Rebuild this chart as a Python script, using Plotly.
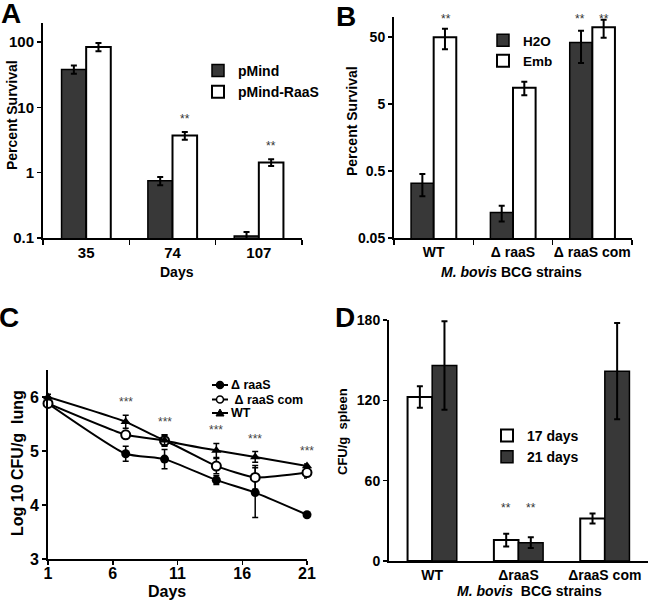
import numpy as np
import plotly.graph_objects as go

# ---------------- Data ----------------
# Panel A
a_days = ["35", "74", "107"]
a_pmind = [38, 0.75, 0.107]
a_pmind_err = [5.5, 0.11, 0.017]
a_raas = [84, 3.7, 1.43]
a_raas_err = [12, 0.5, 0.17]
a_raas_sig = ["", "**", "**"]

# Panel B
b_strains = ["WT", "Δ raaS", "Δ raaS com"]
b_h2o = [0.33, 0.12, 41.5]
b_h2o_err = [0.12, 0.032, 21]
b_emb = [50, 8.8, 70]
b_emb_err = [17, 2, 21]
b_h2o_sig = ["", "", "**"]
b_emb_sig = ["**", "", "**"]

# Panel C
c_days = [1, 7, 10, 14, 17, 21]
c_raas = [5.88, 4.95, 4.85, 4.46, 4.23, 3.82]
c_raas_err = [0.05, 0.14, 0.18, 0.08, 0.46, 0.03]
c_com = [5.88, 5.30, 5.19, 4.72, 4.51, 4.60]
c_com_err = [0.05, 0.04, 0.10, 0.14, 0.22, 0.10]
c_wt = [6.0, 5.54, 5.20, 5.01, 4.89, 4.72]
c_wt_err = [0.05, 0.12, 0.10, 0.13, 0.10, 0.04]
c_sig = ["", "***", "***", "***", "***", "***"]
c_names = ["Δ raaS", " Δ raaS com", "WT"]

# Panel D
d_strains = ["WT", "ΔraaS", "ΔraaS com"]
d_17 = [122.5, 15.6, 31.8]
d_17_err = [8, 4.7, 3.7]
d_21 = [146, 13.7, 141.8]
d_21_err = [33, 4, 36]
d_sig = ["", "**", ""]

# ---------------- Styling ----------------
W, H = 650, 601
FONT = "Liberation Sans, Arial, sans-serif"
DARK = "#383838"


def px(x):
    return x / W


def py(y):
    return 1 - y / H


fig = go.Figure()

err_style = dict(type="data", color="black", thickness=2, width=3, visible=True)

# Panel A bars
fig.add_trace(go.Bar(x=a_days, y=a_pmind, name="pMind", marker=dict(color=DARK, line=dict(color="black", width=1.5)),
                     error_y=dict(array=a_pmind_err, **err_style), xaxis="x", yaxis="y", legend="legend", legendgroup="a1"))
fig.add_trace(go.Bar(x=a_days, y=a_raas, name="pMind-RaaS", marker=dict(color="white", line=dict(color="black", width=2)),
                     error_y=dict(array=a_raas_err, **err_style), xaxis="x", yaxis="y", legend="legend", legendgroup="a2"))

# Panel B bars
fig.add_trace(go.Bar(x=b_strains, y=b_h2o, name="H2O", marker=dict(color=DARK, line=dict(color="black", width=1.5)),
                     error_y=dict(array=b_h2o_err, **err_style), xaxis="x2", yaxis="y2", legend="legend2"))
fig.add_trace(go.Bar(x=b_strains, y=b_emb, name="Emb", marker=dict(color="white", line=dict(color="black", width=2)),
                     error_y=dict(array=b_emb_err, **err_style), xaxis="x2", yaxis="y2", legend="legend2"))

# Panel C lines
line_err = dict(type="data", color="black", thickness=1.5, width=3, visible=True)
c_series = [
    (c_raas, c_raas_err, dict(symbol="circle", size=9, color="black")),
    (c_com, c_com_err, dict(symbol="circle", size=9, color="white", line=dict(color="black", width=2))),
    (c_wt, c_wt_err, dict(symbol="triangle-up", size=9, color="black")),
]
for (vals, errs, mk), name in zip(c_series, c_names):
    fig.add_trace(go.Scatter(x=c_days, y=vals, name=name, mode="lines+markers",
                             line=dict(color="black", width=2, shape="spline", smoothing=0.5),
                             marker=mk, error_y=dict(array=errs, **line_err), cliponaxis=False,
                             showlegend=False, xaxis="x3", yaxis="y3"))

# Panel D bars
fig.add_trace(go.Bar(x=d_strains, y=d_17, name="17 days", marker=dict(color="white", line=dict(color="black", width=2)),
                     error_y=dict(array=d_17_err, **err_style), xaxis="x4", yaxis="y4", legend="legend4", legendgroup="d1"))
fig.add_trace(go.Bar(x=d_strains, y=d_21, name="21 days", marker=dict(color=DARK, line=dict(color="black", width=1.5)),
                     error_y=dict(array=d_21_err, **err_style), xaxis="x4", yaxis="y4", legend="legend4", legendgroup="d2"))

annotations = []
shapes = []


def ann(text, x, y, size, xref="paper", yref="paper", angle=0, bold=True, color="black", xanchor="center", yanchor="middle"):
    annotations.append(dict(text=text, x=x, y=y, xref=xref, yref=yref, showarrow=False, textangle=angle,
                            xanchor=xanchor, yanchor=yanchor,
                            font=dict(family=FONT, size=size, color=color, weight="bold" if bold else "normal")))


SIG_FONT = dict(family=FONT, size=12, color="#333")
# significance markers
for i, s in enumerate(a_raas_sig):
    if s:
        top = np.log10(a_raas[i] + a_raas_err[i])
        annotations.append(dict(text=s, x=i + 0.143, y=top + 0.2, xref="x", yref="y",
                                showarrow=False, font=SIG_FONT))
for i, s in enumerate(b_h2o_sig):
    if s:
        annotations.append(dict(text=s, x=i - 0.15, y=1.03, xref="x2", yref="y2 domain",
                                showarrow=False, font=SIG_FONT))
for i, s in enumerate(b_emb_sig):
    if s:
        annotations.append(dict(text=s, x=i + 0.15, y=1.03, xref="x2", yref="y2 domain",
                                showarrow=False, font=SIG_FONT))
for i, s in enumerate(c_sig):
    if s:
        top = max(c_raas[i] + c_raas_err[i], c_com[i] + c_com_err[i], c_wt[i] + c_wt_err[i])
        annotations.append(dict(text=s, x=c_days[i], y=top + 0.24, xref="x3", yref="y3",
                                showarrow=False, font=dict(family=FONT, size=12, color="#444")))
for i, s in enumerate(d_sig):
    if s:
        top = max(d_17[i] + d_17_err[i], d_21[i] + d_21_err[i])
        for off in (-0.145, 0.145):
            annotations.append(dict(text=s, x=i + off, y=top + 19, xref="x4", yref="y4",
                                    showarrow=False, font=SIG_FONT))

# custom legend for panel C (compact spacing)
leg_rows = [385, 399.5, 413]
for (vals, errs, mk), name, yy in zip(c_series, c_names, leg_rows):
    shapes.append(dict(type="line", xref="paper", yref="paper", x0=px(212), x1=px(228), y0=py(yy), y1=py(yy),
                       line=dict(color="black", width=2)))
    cx, r = 220, 3.5
    if mk["symbol"] == "circle":
        shapes.append(dict(type="circle", xref="paper", yref="paper", x0=px(cx - r), x1=px(cx + r),
                           y0=py(yy + r), y1=py(yy - r), fillcolor=mk["color"],
                           line=dict(color="black", width=1.5)))
    else:
        path = f"M {px(cx - 4)} {py(yy + 3)} L {px(cx + 4)} {py(yy + 3)} L {px(cx)} {py(yy - 4)} Z"
        shapes.append(dict(type="path", xref="paper", yref="paper", path=path, fillcolor="black",
                           line=dict(color="black", width=1)))
    ann(name.replace(" ", "\u00a0"), px(229), py(yy), 12.5, xanchor="left")

# panel letters
ann("A", px(11), py(14), 28)
ann("B", px(346), py(17), 28)
ann("C", px(9), py(317), 28)
ann("D", px(345), py(317), 28)

# axis titles
ann("Percent Survival", px(12), py(115), 14, angle=-90)
ann("Days", px(177), py(272), 14)
ann("Percent Survival", px(352), py(121), 14, angle=-90)
ann("<i>M. bovis</i> BCG strains", px(511), py(272), 14)
ann("Log 10 CFU/g\u00a0\u00a0lung", px(17), py(463), 16, angle=-90)
ann("Days", px(167), py(591), 16)
ann("CFU/g\u00a0\u00a0spleen", px(342), py(432), 13, angle=-90)
ann("<i>M. bovis</i>\u00a0\u00a0BCG strains", px(529), py(591), 14)

axis_common = dict(showline=True, linecolor="black", linewidth=2, showgrid=False, zeroline=False,
                   tickcolor="black", tickwidth=1.5, mirror=False, automargin=False)


def tf(size):
    return dict(family=FONT, size=size, color="black", weight="bold")


legend_common = dict(bgcolor="rgba(0,0,0,0)", borderwidth=0, xanchor="left", yanchor="top",
                     traceorder="normal")

fig.update_layout(
    width=W, height=H, margin=dict(l=0, r=0, t=0, b=0, pad=0, autoexpand=False),
    paper_bgcolor="white", plot_bgcolor="white",
    font=dict(family=FONT, color="black"),
    barmode="group", bargap=0.43, bargroupgap=0,
    showlegend=True, hovermode=False,
    annotations=annotations, shapes=shapes,
    xaxis=dict(domain=[px(43), px(302)], anchor="y", type="category", ticks="outside", tickson="boundaries",
               ticklen=5, tickangle=0, tickfont=tf(15), **axis_common),
    yaxis=dict(domain=[py(238), py(23)], anchor="x", type="log", range=[-1, 2.29],
               tickvals=[0.1, 1, 10, 100], ticktext=["0.1", "1", "10", "100"], ticks="outside", ticklen=4,
               tickfont=tf(15), **axis_common),
    xaxis2=dict(domain=[px(394), px(632)], anchor="y2", type="category", ticks="outside", tickson="boundaries",
                ticklen=5, tickangle=0, tickfont=tf(14), **axis_common),
    yaxis2=dict(domain=[py(238), py(17)], anchor="x2", type="log", range=[np.log10(0.05), 2.0],
                tickvals=[0.05, 0.5, 5, 50], ticktext=["0.05", "0.5", "5", "50"], ticks="outside", ticklen=4,
                tickfont=tf(14), **axis_common),
    xaxis3=dict(domain=[px(48), px(307)], anchor="y3", range=[1, 21], tickvals=[1, 6, 11, 16, 21],
                ticks="outside", ticklen=4, tickangle=0, tickfont=tf(16), ticklabelstandoff=-5, **axis_common),
    yaxis3=dict(domain=[py(559), py(370)], anchor="x3", range=[3, 6.5], tickvals=[3, 4, 5, 6],
                ticks="outside", ticklen=4, tickfont=tf(16), **axis_common),
    xaxis4=dict(domain=[px(389), px(648)], anchor="y4", type="category", ticks="", tickangle=0,
                tickfont=tf(14), **axis_common),
    yaxis4=dict(domain=[py(561), py(320)], anchor="x4", range=[0, 180], tickvals=[0, 60, 120, 180],
                ticks="outside", ticklen=4, tickfont=tf(14), **axis_common),
    legend=dict(x=px(198), y=py(55), font=tf(14), tracegroupgap=18, **legend_common),
    legend2=dict(x=px(483), y=py(25), font=tf(13.5), **legend_common),
    legend4=dict(x=px(487), y=py(420), font=tf(14), tracegroupgap=8, **legend_common),
)

fig.write_html("out.html", config={"displayModeBar": False, "staticPlot": True},
               post_script="document.body.style.margin='0';document.body.style.overflow='hidden';")
